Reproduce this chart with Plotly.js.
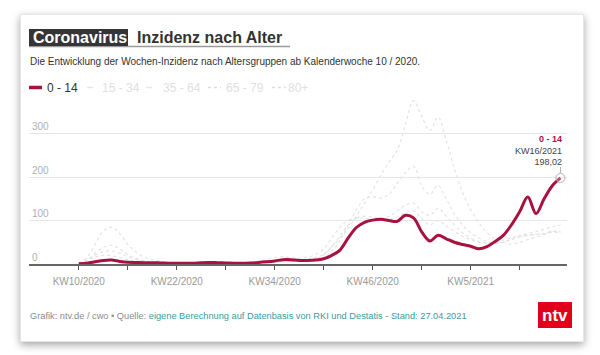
<!DOCTYPE html>
<html>
<head>
<meta charset="utf-8">
<script src="https://cdn.plot.ly/plotly-3.0.1.min.js"></script>
<style>
  html, body { margin: 0; padding: 0; background: #ffffff; }
  body { width: 600px; height: 355px; position: relative; overflow: hidden; }
  #card { position: absolute; left: 20px; top: 14px; width: 562px; height: 326px;
          background: #fff; border: 1px solid #e6e6e6;
          box-shadow: 0 3px 8px rgba(0,0,0,0.35); }
  #chart { position: absolute; left: 0; top: 0; width: 600px; height: 355px; }
</style>
</head>
<body>
<div id="card"></div>
<div id="chart"></div>
<script>
// ---- data ----
const weeks = [
  'KW10/2020','KW11/2020','KW12/2020','KW13/2020','KW14/2020','KW15/2020','KW16/2020','KW17/2020','KW18/2020','KW19/2020',
  'KW20/2020','KW21/2020','KW22/2020','KW23/2020','KW24/2020','KW25/2020','KW26/2020','KW27/2020','KW28/2020','KW29/2020',
  'KW30/2020','KW31/2020','KW32/2020','KW33/2020','KW34/2020','KW35/2020','KW36/2020','KW37/2020','KW38/2020','KW39/2020',
  'KW40/2020','KW41/2020','KW42/2020','KW43/2020','KW44/2020','KW45/2020','KW46/2020','KW47/2020','KW48/2020','KW49/2020',
  'KW50/2020','KW51/2020','KW52/2020','KW53/2020','KW1/2021','KW2/2021','KW3/2021','KW4/2021','KW5/2021','KW6/2021',
  'KW7/2021','KW8/2021','KW9/2021','KW10/2021','KW11/2021','KW12/2021','KW13/2021','KW14/2021','KW15/2021','KW16/2021'
];
const age0_14 = [
  0.5, 2, 5, 8, 9, 6, 4, 3.5, 3, 3,
  2.5, 2, 2, 2, 2, 3, 3.5, 3, 2.5, 2,
  2, 2.5, 3.5, 5, 7, 10, 10, 8, 8, 9,
  12, 20, 32, 60, 84, 96, 101, 103, 100, 98,
  112, 106, 74, 53, 66, 58, 50, 45, 41, 35,
  40, 52, 66, 90, 120, 154, 116, 150, 180, 198.02
];
const age15_34 = [
  1, 8, 16, 20, 19, 15, 10, 7, 5, 4,
  3, 3, 3, 3, 3, 3, 3, 3, 3, 3,
  4, 5, 6, 10, 15, 17, 15, 13, 15, 22,
  35, 60, 85, 100, 105, 105, 102, 100, 102, 108,
  118, 122, 105, 90, 100, 88, 75, 64, 56, 50,
  48, 50, 55, 60, 64, 66, 68, 70, 73, 72
];
const age35_64 = [
  1, 8, 20, 28, 30, 25, 17, 11, 7, 5,
  4, 3, 3, 3, 3, 3, 3, 3, 3, 3,
  3, 4, 5, 6, 8, 10, 10, 10, 12, 15,
  22, 40, 65, 90, 105, 110, 108, 105, 110, 122,
  135, 140, 120, 112, 128, 110, 90, 72, 60, 52,
  47, 46, 50, 56, 62, 66, 68, 70, 75, 74
];
const age65_79 = [
  1, 8, 25, 38, 43, 35, 22, 13, 8, 5,
  3, 2, 2, 2, 2, 2, 2, 2, 2, 2,
  2, 3, 3, 4, 5, 6, 6, 7, 8, 10,
  15, 30, 55, 90, 125, 150, 155, 152, 160, 185,
  210, 225, 180, 160, 181, 150, 115, 90, 72, 60,
  52, 48, 50, 58, 65, 70, 74, 80, 86, 89
];
const age80plus = [
  2, 15, 45, 75, 85, 70, 45, 28, 16, 10,
  6, 4, 3, 2, 2, 2, 2, 2, 2, 2,
  2, 3, 3, 3, 4, 5, 6, 7, 9, 12,
  20, 40, 60, 82, 110, 140, 170, 205, 235, 262,
  320, 376, 340, 307, 338, 285, 220, 165, 125, 95,
  72, 58, 50, 46, 50, 56, 62, 68, 76, 72
];
const seriesNames = ['0 - 14', '15 - 34', '35 - 64', '65 - 79', '80+'];
const xTickVals = ['KW10/2020','KW16/2020','KW22/2020','KW28/2020','KW34/2020','KW40/2020','KW46/2020','KW52/2020','KW5/2021','KW11/2021'];
const xTickText = ['KW10/2020','','KW22/2020','','KW34/2020','','KW46/2020','','KW5/2021',''];
const yTickVals = [0, 100, 200, 300];

// ---- layout helpers (pixel -> paper) ----
const PL = 29, PR = 567, PT = 95, PB = 264;
const px = x => (x - PL) / (PR - PL);
const py = y => (PB - y) / (PB - PT);

const RED = '#a8123e';
const GREY = '#e1e1e1';
const FONT = 'Liberation Sans, Arial, sans-serif';

const greyTrace = (vals, name) => ({
  x: weeks, y: vals, name: name, type: 'scatter', mode: 'lines',
  line: { color: GREY, width: 1.1, dash: 'dot', shape: 'spline', smoothing: 1 },
  hoverinfo: 'skip'
});

const last = weeks.length - 1;
const traces = [
  greyTrace(age80plus, seriesNames[4]),
  greyTrace(age65_79, seriesNames[3]),
  greyTrace(age35_64, seriesNames[2]),
  greyTrace(age15_34, seriesNames[1]),
  { x: weeks, y: age0_14, name: seriesNames[0], type: 'scatter', mode: 'lines',
    line: { color: RED, width: 3, shape: 'spline', smoothing: 1 } },
  { x: [weeks[last]], y: [age0_14[last]], type: 'scatter', mode: 'markers', cliponaxis: false,
    marker: { size: 9, color: 'rgba(255,255,255,0.25)', line: { color: '#b0b0b0', width: 1 } },
    hoverinfo: 'skip' }
];

const legendItems = [
  { lx0: 29, lx1: 42, tx: 45, color: RED, width: 3.5, dash: 'solid', tcolor: '#333' },
  { lx0: 87, lx1: 93, tx: 100, color: '#e6e6e6', width: 1.5, dash: 'solid', tcolor: '#e0e0e0' },
  { lx0: 146, lx1: 152, tx: 161, color: '#e6e6e6', width: 1.5, dash: 'solid', tcolor: '#e0e0e0' },
  { lx0: 208, lx1: 221, tx: 224, color: '#dedede', width: 1.5, dash: 'dot', tcolor: '#e0e0e0' },
  { lx0: 272, lx1: 286, tx: 286, color: '#dedede', width: 1.5, dash: 'dot', tcolor: '#e0e0e0' }
];

const shapes = [
  // title underline and dark box
  { type: 'line', xref: 'paper', yref: 'paper', x0: px(29), x1: px(290), y0: py(46.5), y1: py(46.5),
    line: { color: '#9a9a9a', width: 1.5 } },
  { type: 'rect', xref: 'paper', yref: 'paper', x0: px(29), x1: px(128), y0: py(46), y1: py(29),
    fillcolor: '#353535', line: { width: 0 } },
  // ntv logo
  { type: 'rect', xref: 'paper', yref: 'paper', x0: px(538), x1: px(572), y0: py(328), y1: py(302),
    fillcolor: '#e2001a', line: { width: 0 } },
  // connector above last point
  { type: 'line', xref: 'x', yref: 'y', ysizemode: 'pixel', yanchor: age0_14[last],
    x0: last, x1: last, y0: 5, y1: 11, line: { color: '#b0b0b0', width: 1 } }
];
legendItems.forEach(it => shapes.push({
  type: 'line', xref: 'paper', yref: 'paper', x0: px(it.lx0), x1: px(it.lx1), y0: py(87.5), y1: py(87.5),
  line: { color: it.color, width: it.width, dash: it.dash }
}));

const annotations = [
  { xref: 'paper', yref: 'paper', x: px(31), y: py(37.8), xanchor: 'left', yanchor: 'middle', showarrow: false,
    text: '<b>Coronavirus</b>', font: { family: FONT, size: 16, color: '#ffffff' } },
  { xref: 'paper', yref: 'paper', x: px(135), y: py(37.8), xanchor: 'left', yanchor: 'middle', showarrow: false,
    text: '<b>Inzidenz nach Alter</b>', font: { family: FONT, size: 16, color: '#333333' } },
  { xref: 'paper', yref: 'paper', x: px(28), y: py(62), xanchor: 'left', yanchor: 'middle', showarrow: false,
    text: 'Die Entwicklung der Wochen-Inzidenz nach Altersgruppen ab Kalenderwoche 10 / 2020.',
    font: { family: FONT, size: 10, color: '#333333' } },
  { xref: 'paper', yref: 'paper', x: px(28), y: py(316), xanchor: 'left', yanchor: 'middle', showarrow: false,
    text: '<span style="color:#8c8c8c">Grafik: ntv.de / cwo • Quelle: </span><span style="color:#3c9aa6">eigene Berechnung auf Datenbasis von RKI und Destatis - Stand: 27.04.2021</span>',
    font: { family: FONT, size: 9.25, color: '#8c8c8c' } },
  { xref: 'paper', yref: 'paper', x: px(555), y: py(315), xanchor: 'center', yanchor: 'middle', showarrow: false,
    text: '<b>ntv</b>', font: { family: FONT, size: 17, color: '#ffffff' } },
  { xref: 'x', yref: 'y', x: last, y: age0_14[last], xanchor: 'right', yanchor: 'bottom', showarrow: false,
    xshift: 4, yshift: 9, align: 'right',
    text: '<span style="color:' + RED + '"><b>' + seriesNames[0] + '</b></span><br>' + weeks[last] + '<br>' + age0_14[last].toFixed(2).replace('.', ','),
    font: { family: FONT, size: 9, color: '#444444' } }
];
legendItems.forEach((it, i) => annotations.push({
  xref: 'paper', yref: 'paper', x: px(it.tx), y: py(87.5), xanchor: 'left', yanchor: 'middle', showarrow: false,
  text: seriesNames[i], font: { family: FONT, size: 12, color: it.tcolor }
}));

const layout = {
  width: 600, height: 355,
  margin: { l: PL, r: 600 - PR, t: PT, b: 355 - PB, pad: 0 },
  paper_bgcolor: 'rgba(0,0,0,0)', plot_bgcolor: 'rgba(0,0,0,0)',
  showlegend: false,
  font: { family: FONT },
  xaxis: {
    type: 'category', range: [-6.1, 59.8],
    tickmode: 'array', tickvals: xTickVals, ticktext: xTickText,
    ticks: 'outside', ticklen: 4, tickwidth: 1, tickcolor: '#555555',
    showline: true, linecolor: '#666666', linewidth: 1.5,
    showgrid: false, zeroline: false, tickangle: 0, ticklabelstandoff: 3,
    tickfont: { family: FONT, size: 10, color: '#9a9a9a' }
  },
  yaxis: {
    range: [0, 388.8], tickmode: 'array', tickvals: yTickVals,
    ticklabelposition: 'inside top',
    showgrid: true, gridcolor: '#e6e6e6', gridwidth: 1,
    zeroline: false, showline: false, ticks: '',
    tickfont: { family: FONT, size: 10, color: '#b0b0b0' }
  },
  shapes: shapes,
  annotations: annotations
};

Plotly.newPlot('chart', traces, layout, { staticPlot: true, displayModeBar: false });
</script>
</body>
</html>
